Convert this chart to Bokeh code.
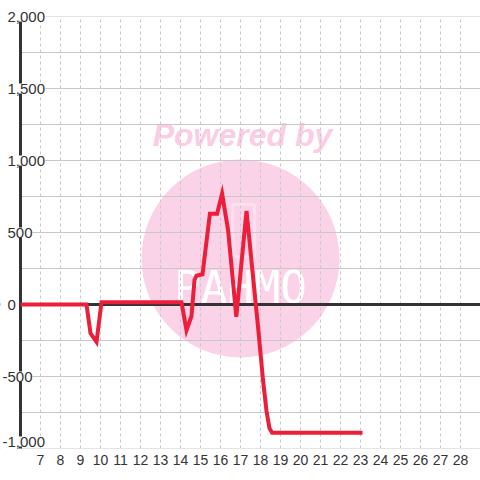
from bokeh.plotting import figure
from bokeh.models import FixedTicker, Grid, Span, Label, BoxAnnotation
from bokeh.embed import file_html
from bokeh.resources import INLINE

# ---- data ----
xs = [6, 9.3, 9.5, 9.8, 10.05, 14.05, 14.3, 14.55, 14.7, 14.8, 15.1, 15.47, 15.83,
      16.08, 16.38, 16.79, 17.3, 17.88, 18.13, 18.3, 18.45, 18.58, 23.1]
ys = [0, 0, -200, -260, 15, 15, -180, -80, 170, 200, 210, 630, 630,
      770, 515, -85, 650, -160, -530, -740, -860, -890, -890]
x_ticks = list(range(7, 29))
y_ticks = [-1000, -500, 0, 500, 1000, 1500, 2000]
y_tick_labels = ["-1,000", "-500", "0", "500", "1,000", "1,500", "2,000"]
y_grid = [-1000, -750, -500, -250, 0, 250, 500, 750, 1000, 1250, 1500, 1750, 2000]

XA = 6            # where the y axis line sits
X0, X1 = 5, 29    # visible x span (left strip holds the y labels)
YA0, YA1 = -1000, 2000   # drawn value span
W, H = 480, 480
BT, BB = 0, 20
PX_PER_UNIT = 432 / (YA1 - YA0)
Y1 = YA1 + 16 / PX_PER_UNIT
Y0 = YA0 - (H - BB - 448) / PX_PER_UNIT

p = figure(width=W, height=H, x_range=(X0, X1), y_range=(Y0, Y1),
           output_backend="svg", toolbar_location=None, y_axis_location=None,
           min_border_left=0, min_border_right=0, min_border_top=BT,
           min_border_bottom=BB, outline_line_color=None,
           background_fill_color="white", border_fill_color="white")

# screen-pixel -> data helpers for the watermark decoration
def dx(px):
    return X0 + px * (X1 - X0) / W
def dy(py):
    return Y1 - py / PX_PER_UNIT

# watermark
p.circle(x=[dx(240)], y=[dy(258)], radius=99, radius_units="screen",
         fill_color="#fbd3e9", line_color=None, level="image")
p.add_layout(BoxAnnotation(left=dx(232), right=dx(254), top=dy(204), bottom=dy(256),
                           fill_alpha=0, line_color="white", line_width=3, level="image"))
p.add_layout(Label(x=dx(240), y=dy(287), text="PAHMO", text_align="center",
                   text_baseline="middle", text_font="DejaVu Sans Mono",
                   text_font_size="44px", text_color="white", level="image"))
p.add_layout(Label(x=dx(242), y=dy(134), text="Powered by", text_align="center",
                   text_baseline="middle", text_font="Liberation Sans",
                   text_font_style="bold italic", text_font_size="32px",
                   text_color="#fbcde5", level="image"))

# grids
p.xgrid.ticker = FixedTicker(ticks=x_ticks)
p.xgrid.grid_line_color = "#c8c8c8"
p.xgrid.grid_line_dash = "3 3"
p.add_layout(Grid(dimension=1, ticker=FixedTicker(ticks=y_grid),
                  grid_line_color="#c8c8c8", grid_line_width=1))

# zero line
p.add_layout(Span(location=0, dimension="width", line_color="#333333",
                  line_width=3, level="underlay"))

# blank margins around the plotting area
p.add_layout(BoxAnnotation(right=XA, fill_color="white", fill_alpha=1,
                           line_color=None, level="underlay"))
p.add_layout(BoxAnnotation(bottom=YA1, fill_color="white", fill_alpha=1,
                           line_color=None, level="underlay"))
p.add_layout(BoxAnnotation(top=YA0, fill_color="white", fill_alpha=1,
                           line_color=None, level="underlay"))

# x axis
ax = p.xaxis[0]
ax.ticker = FixedTicker(ticks=x_ticks)
ax.axis_line_color = None
ax.major_tick_line_color = None
ax.minor_tick_line_color = None
ax.major_tick_out = 0
ax.major_label_standoff = -6
ax.major_label_text_font = "Liberation Sans"
ax.major_label_text_font_size = "14px"
ax.major_label_text_color = "#333333"

# y axis line
p.segment(x0=[XA], y0=[YA0], x1=[XA], y1=[YA1], line_color="#333333", line_width=3)

# data line
p.line(xs, ys, line_color="#ec1e3a", line_width=4, line_join="miter")

# y tick labels (lowest one kept inside the plot area)
for v, t in zip(y_ticks, y_tick_labels):
    p.add_layout(Label(x=XA, y=v, text=t, x_offset=(-13 if v >= 0 else -18),
                       y_offset=(7 if v == YA0 else 0),
                       text_align="left", text_baseline="middle",
                       text_font="Liberation Sans", text_font_size="15px",
                       text_color="#333333", background_fill_color="white",
                       background_fill_alpha=1))

open("out.html", "w").write(file_html(p, INLINE))
